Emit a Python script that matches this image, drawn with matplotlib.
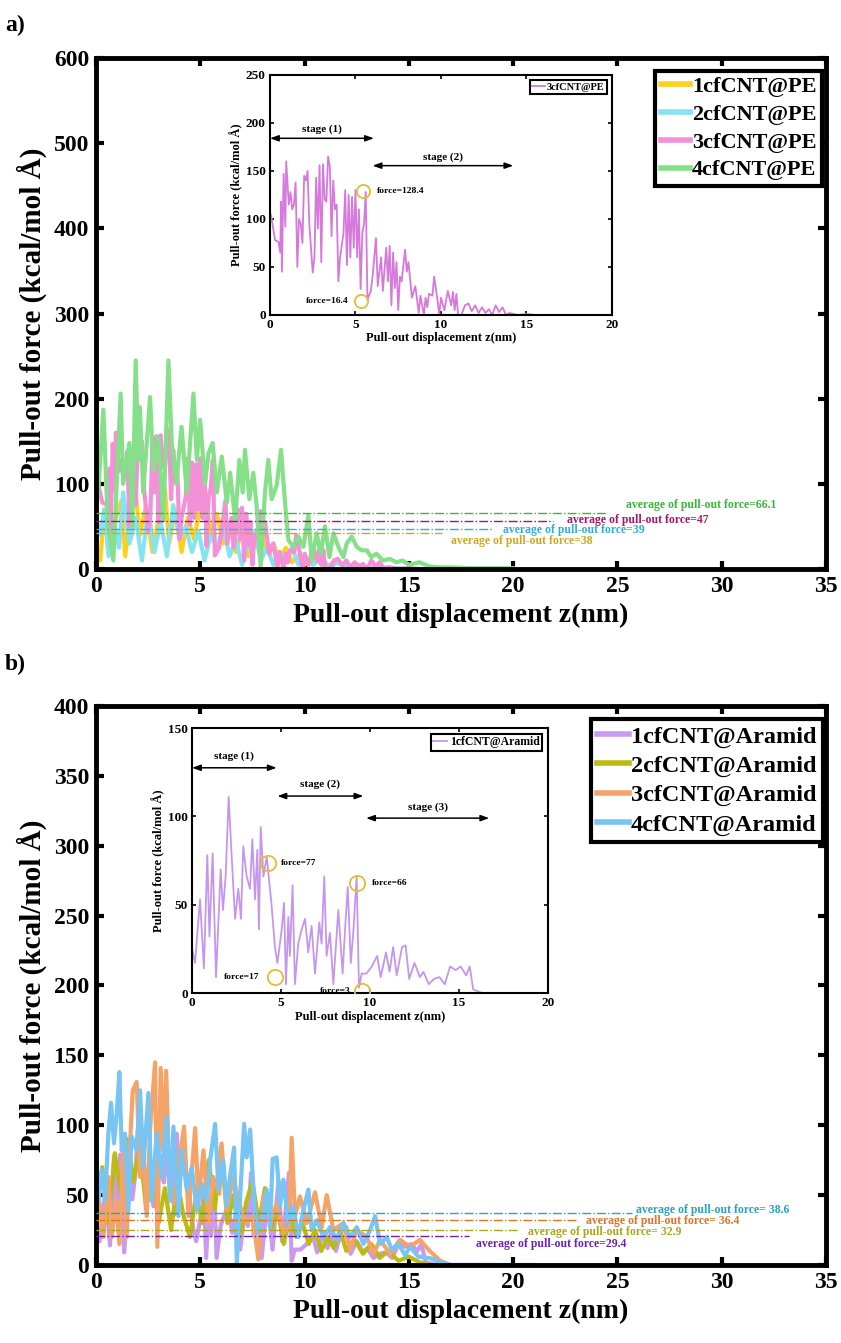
import matplotlib
matplotlib.use("Agg")
from matplotlib import pyplot as plt

plt.rcParams['font.family'] = ['Liberation Serif', 'DejaVu Serif']
plt.rcParams['font.weight'] = 'bold'
plt.rcParams['axes.labelweight'] = 'bold'

# ---- panel a data: cfCNT@PE ----
pe1_x = [0, 0.2, 0.4, 0.6, 0.9, 1.2, 1.4, 1.6, 1.9, 2.1,
         2.4, 2.7, 3.0, 3.3, 3.5, 3.8, 4.1, 4.4, 4.7, 5.0,
         5.2, 5.5, 5.8, 6.1, 6.4, 6.7, 7.0, 7.3, 7.6, 7.9,
         8.2, 8.5, 8.8, 9.1, 9.4, 9.7, 10.0, 10.5, 11.0, 11.5,
         12.0, 12.5, 13.0, 13.5, 14.0]
pe1_y = [30, 10, 70, 20, 55, 80, 15, 60, 90, 40,
         75, 20, 60, 95, 30, 70, 20, 60, 35, 75,
         100, 40, 65, 30, 55, 20, 45, 15, 35, 60,
         20, 30, 10, 25, 8, 15, 5, 12, 3, 8,
         2, 6, 1, 2, 0]

pe2_x = [0, 0.2, 0.4, 0.6, 0.9, 1.1, 1.3, 1.6, 1.9, 2.2,
         2.5, 2.8, 3.1, 3.4, 3.7, 4.0, 4.3, 4.6, 4.9, 5.2,
         5.5, 5.8, 6.1, 6.4, 6.7, 7.0, 7.3, 7.6, 7.9, 8.2,
         8.5, 8.8, 9.1, 9.4, 9.7, 10.0, 10.4, 10.8, 11.2, 11.6,
         12.0, 12.5, 13.0, 14.0, 15.0, 16.0]
pe2_y = [60, 40, 70, 15, 50, 25, 90, 30, 60, 10,
         70, 20, 55, 15, 75, 35, 50, 20, 45, 10,
         40, 25, 50, 15, 35, 5, 30, 45, 10, 25,
         5, 20, 10, 25, 5, 15, 5, 12, 2, 8,
         3, 5, 1, 2, 0, 0]

pe3_x = [0, 0.1, 0.3, 0.5, 0.6, 0.65, 0.7, 0.8, 0.9, 0.95,
         1.1, 1.2, 1.3, 1.4, 1.5, 1.6, 1.7, 1.8, 1.9, 2.0,
         2.1, 2.2, 2.3, 2.5, 2.6, 2.7, 2.8, 2.9, 3.0, 3.1,
         3.2, 3.3, 3.4, 3.5, 3.6, 3.7, 3.8, 3.9, 4.0, 4.1,
         4.3, 4.4, 4.5, 4.6, 4.7, 4.8, 4.9, 5.0, 5.1, 5.2,
         5.3, 5.4, 5.5, 5.6, 5.7, 5.9, 6.0, 6.2, 6.3, 6.5,
         6.6, 6.8, 6.9, 7.0, 7.1, 7.2, 7.3, 7.4, 7.5, 7.6,
         7.7, 7.9, 8.0, 8.1, 8.3, 8.5, 8.7, 8.8, 9.0, 9.1,
         9.2, 9.3, 9.5, 9.6, 9.8, 9.9, 10.0, 10.2, 10.4, 10.6,
         10.7, 10.8, 10.9, 11.0, 11.2, 11.4, 11.6, 11.8, 12.0, 12.2,
         12.4, 12.6, 12.8, 13.0, 13.2, 13.4, 13.6, 13.8, 14.0, 14.5,
         15.0, 15.5, 16.7]
pe3_y = [108, 100, 78, 76, 65, 118, 45, 147, 92, 160,
         115, 128, 110, 115, 138, 50, 100, 95, 75, 145,
         140, 150, 95, 44, 60, 143, 90, 156, 55, 157,
         120, 118, 165, 155, 82, 140, 110, 115, 35, 60,
         85, 130, 52, 125, 60, 123, 70, 130, 60, 110,
         27, 85, 95, 128, 16, 25, 40, 80, 30, 60,
         25, 70, 35, 72, 10, 65, 28, 55, 5, 40,
         35, 68, 45, 55, 18, 30, 2, 20, 0, 18,
         8, 22, 20, 40, 15, 0, 18, 5, 25, 10,
         24, 5, 22, 0, 0, 10, 12, 4, 10, 2,
         8, 2, 6, 0, 10, 3, 8, 0, 2, 0,
         1, 0, 0]

pe4_x = [0, 0.11, 0.35, 0.57, 0.83, 1.18, 1.3, 1.6, 1.74, 1.9,
         2.03, 2.1, 2.26, 2.59, 2.75, 2.99, 3.23, 3.47, 3.63, 3.84,
         4.1, 4.35, 4.67, 4.83, 4.99, 5.23, 5.39, 5.59, 5.79, 6.03,
         6.27, 6.43, 6.67, 6.87, 7.03, 7.14, 7.35, 7.54, 7.7, 7.89,
         8.1, 8.26, 8.42, 8.66, 8.87, 9.06, 9.22, 9.46, 9.7, 9.94,
         10.18, 10.34, 10.58, 10.77, 10.98, 11.19, 11.38, 11.62, 11.86, 12.02,
         12.26, 12.5, 12.73, 12.98, 13.2, 13.44, 13.76, 14.08, 14.4, 14.7,
         15.0, 15.5, 16.0, 16.5, 17.0, 18.0, 19.0, 20.0]
pe4_y = [70, 93, 187, 50, 10, 206, 100, 148, 50, 245,
         128, 190, 90, 202, 116, 155, 57, 245, 148, 100,
         167, 90, 206, 128, 175, 100, 136, 148, 90, 132,
         78, 113, 57, 128, 90, 140, 82, 113, 74, 3,
         90, 128, 82, 98, 140, 78, 34, 26, 38, 26,
         63, 10, 42, 18, 50, 14, 42, 26, 14, 30,
         38, 26, 22, 22, 14, 18, 10, 12, 8, 10,
         5, 8, 3, 2, 2, 1, 1, 1]

pe_labels = ['1cfCNT@PE', '2cfCNT@PE', '3cfCNT@PE', '4cfCNT@PE']
pe_colors = ['#ffd21a', '#86e3f2', '#f390d8', '#86e08a']
pe_avg_level = [42, 47, 56, 66]
pe_avg_end = [16.6, 19.0, 21.9, 24.5]
pe_avg_text = ['average of pull-out force=38', 'average of pull-out force=39',
               'average of pull-out force=47', 'average of pull-out force=66.1']
pe_avg_text_x = [17.0, 19.5, 22.6, 25.4]
pe_avg_text_y = [33, 46, 57, 75]
pe_avg_colors = ['#d0a820', '#30aed6', '#a3186e', '#38b83a']

# ---- panel b data: cfCNT@Aramid ----
ar1_x = [0, 0.17, 0.45, 0.67, 0.86, 0.98, 1.16, 1.35, 1.61, 1.74,
         1.89, 2.06, 2.23, 2.42, 2.6, 2.75, 2.88, 3.07, 3.26, 3.39,
         3.54, 3.67, 3.76, 3.86, 4.01, 4.2, 4.46, 4.66, 4.8, 5.04,
         5.17, 5.28, 5.41, 5.5, 5.65, 5.78, 5.97, 6.16, 6.35, 6.53,
         6.72, 6.91, 7.15, 7.28, 7.43, 7.56, 7.75, 7.94, 8.22, 8.46,
         8.6, 8.75, 8.92, 9.06, 9.25, 9.38, 9.53, 9.8, 10.1, 10.4,
         10.6, 10.9, 11.1, 11.3, 11.5, 11.8, 12.0, 12.2, 12.5, 12.8,
         13.0, 13.3, 13.6, 13.9, 14.2, 14.5, 14.8, 15.1, 15.4, 15.6,
         15.8, 16.3, 18.8]
ar1_y = [25, 17, 53, 14, 78, 32, 79, 9, 70, 47,
         66, 111, 77, 42, 59, 42, 83, 66, 59, 87,
         53, 81, 36, 94, 66, 77, 51, 26, 17, 36,
         51, 5, 43, 21, 61, 5, 28, 36, 42, 23,
         38, 11, 40, 28, 66, 21, 34, 5, 47, 11,
         36, 60, 17, 34, 66, 3, 11, 11, 15, 21,
         9, 23, 12, 26, 10, 26, 27, 8, 17, 9,
         12, 5, 8, 9, 5, 15, 13, 15, 10, 15,
         2, 0, 0]

ar2_x = [0, 0.3, 0.6, 0.9, 1.2, 1.5, 1.8, 2.1, 2.4, 2.7,
         3.0, 3.3, 3.6, 3.9, 4.2, 4.5, 4.8, 5.1, 5.4, 5.7,
         6.0, 6.3, 6.6, 6.9, 7.2, 7.5, 7.8, 8.1, 8.4, 8.7,
         9.0, 9.3, 9.6, 9.9, 10.2, 10.5, 10.8, 11.1, 11.4, 11.7,
         12.0, 12.4, 12.8, 13.2, 13.6, 14.0, 14.5, 15.0, 15.5, 16.0]
ar2_y = [40, 70, 30, 80, 50, 90, 60, 85, 40, 70,
         30, 55, 25, 60, 35, 20, 50, 30, 75, 40,
         85, 30, 50, 20, 45, 60, 30, 55, 25, 40,
         15, 35, 20, 30, 15, 25, 10, 20, 12, 25,
         10, 18, 8, 15, 5, 10, 3, 6, 2, 0]

ar3_x = [0, 0.11, 0.35, 0.59, 0.75, 0.96, 1.12, 1.31, 1.47, 1.63,
         1.76, 1.95, 2.11, 2.27, 2.43, 2.59, 2.83, 2.94, 3.1, 3.23,
         3.36, 3.52, 3.71, 3.95, 4.22, 4.43, 4.75, 4.91, 5.15, 5.38,
         5.62, 5.91, 6.02, 6.26, 6.58, 6.9, 7.22, 7.51, 7.78, 8.02,
         8.34, 8.66, 8.98, 9.25, 9.38, 9.54, 9.78, 10.1, 10.5, 10.82,
         11.06, 11.38, 11.86, 12.18, 12.5, 12.98, 13.3, 13.62, 14.1, 14.57,
         15.05, 15.53, 16.0, 16.5, 17.0]
ar3_y = [30, 51, 20, 63, 20, 46, 15, 82, 20, 87,
         125, 131, 63, 82, 35, 97, 145, 13, 141, 82,
         139, 63, 44, 70, 99, 35, 98, 46, 82, 30,
         63, 51, 87, 39, 63, 42, 30, 35, 4, 49,
         30, 44, 23, 27, 91, 35, 49, 30, 52, 27,
         50, 25, 30, 11, 25, 20, 8, 18, 8, 18,
         13, 18, 10, 3, 0]

ar4_x = [0, 0.11, 0.27, 0.43, 0.59, 0.72, 0.86, 0.99, 1.12, 1.23,
         1.39, 1.55, 1.71, 1.95, 2.11, 2.27, 2.51, 2.67, 2.91, 3.15,
         3.39, 3.55, 3.71, 3.95, 4.11, 4.35, 4.59, 4.83, 5.07, 5.31,
         5.47, 5.71, 5.87, 6.1, 6.26, 6.42, 6.62, 6.75, 6.9, 7.1,
         7.22, 7.39, 7.58, 7.78, 8.02, 8.18, 8.34, 8.47, 8.66, 8.82,
         8.98, 9.22, 9.46, 9.7, 9.94, 10.18, 10.34, 10.58, 10.9, 11.22,
         11.54, 11.86, 12.18, 12.5, 12.82, 13.14, 13.38, 13.62, 13.94, 14.18,
         14.5, 14.82, 15.05, 15.45, 16.0, 16.5, 17.0, 21.0]
ar4_y = [40, 46, 68, 46, 94, 116, 87, 108, 138, 82,
         94, 39, 92, 82, 125, 70, 123, 46, 94, 63,
         106, 46, 99, 35, 82, 54, 70, 39, 58, 46,
         75, 101, 54, 75, 42, 63, 84, 1, 46, 101,
         77, 97, 44, 23, 35, 54, 27, 76, 77, 42,
         61, 30, 42, 20, 39, 54, 25, 32, 20, 27,
         18, 30, 20, 27, 15, 25, 35, 15, 20, 11,
         15, 7, 13, 6, 5, 2, 0, 0]

ar_labels = ['1cfCNT@Aramid', '2cfCNT@Aramid', '3cfCNT@Aramid', '4cfCNT@Aramid']
ar_colors = ['#c99af0', '#bcbc10', '#f4a468', '#78c4f2']
ar_avg_level = [21, 25, 32, 37]
ar_avg_end = [17.9, 20.3, 23.0, 25.7]
ar_avg_text = ['average of pull-out force=29.4', 'average of pull-out force= 32.9',
               'average of pull-out force= 36.4', 'average of pull-out force= 38.6']
ar_avg_text_x = [18.2, 20.7, 23.5, 25.9]
ar_avg_text_y = [15, 23.6, 31.5, 39.4]
ar_avg_colors = ['#6a22b8', '#a8a820', '#e07428', '#2aa2c4']


def style_axes(ax, spine_w, tick_len, tick_w, size):
    for s in ax.spines.values():
        s.set_linewidth(spine_w)
    ax.tick_params(direction='in', length=tick_len, width=tick_w, labelsize=size,
                   top=True, right=True, pad=5)


def draw_main(ax, xs, ys, colors, labels, levels, ends, texts, tx, ty, tcolors,
              ymax, ystep, leg_size, leg_space, leg_anchor):
    for x, y, c, lab in zip(xs, ys, colors, labels):
        ax.plot(x, y, color=c, lw=3, label=lab)
    for lev, end, c in zip(levels, ends, tcolors):
        ax.plot([0, end], [lev, lev], color=c, lw=1.0, ls='-.', zorder=5)
    for t, x, y, c in zip(texts, tx, ty, tcolors):
        ax.text(x, y, t, color=c, fontsize=8.5, ha='left', va='center', zorder=6)
    ax.set_xlim(0, 35)
    ax.set_ylim(0, ymax)
    ax.set_xticks(range(0, 36, 5))
    ax.set_yticks(range(0, ymax + 1, ystep))
    style_axes(ax, 3.5, 6, 3, 17)
    ax.set_xlabel('Pull-out displacement z(nm)', fontsize=20, labelpad=4)
    ax.set_ylabel('Pull-out force (kcal/mol Å)', fontsize=21, labelpad=5)
    leg = ax.legend(loc='upper right', bbox_to_anchor=leg_anchor, fontsize=leg_size,
                    handlelength=1.3, handletextpad=0.1, borderpad=0.25,
                    labelspacing=leg_space, fancybox=False, edgecolor='black', framealpha=1)
    leg.get_frame().set_linewidth(3)
    for h in leg.get_lines():
        h.set_linewidth(4)


def draw_inset(ax, x, y, color, label, ymax, leg_size):
    ax.plot(x, y, color=color, lw=1.3, label=label)
    ax.set_xlim(0, 20)
    ax.set_ylim(0, ymax)
    ax.set_xticks(range(0, 21, 5))
    ax.set_yticks(range(0, ymax + 1, 50))
    style_axes(ax, 1.5, 3, 1.2, 9.5)
    ax.tick_params(pad=3)
    ax.set_xlabel('Pull-out displacement z(nm)', fontsize=9, labelpad=1)
    ax.set_ylabel('Pull-out force (kcal/mol Å)', fontsize=9, labelpad=2)
    leg = ax.legend(loc='upper right', fontsize=leg_size, handlelength=1.2, handletextpad=0.2,
                    borderpad=0.2, fancybox=False, edgecolor='black', framealpha=1)
    leg.get_frame().set_linewidth(1.5)


def stage(ax, x0, x1, y, text, ty):
    ax.annotate('', xy=(x1, y), xytext=(x0, y),
                arrowprops=dict(arrowstyle='<|-|>,head_length=0.5,head_width=0.18',
                                color='black', lw=1.1, shrinkA=0, shrinkB=0))
    ax.text((x0 + x1) / 2, ty, text, fontsize=8, ha='center', va='center')


def mark(ax, x, y, text, tx, ha, ms):
    ax.plot([x], [y], 'o', mfc='none', mec='#e2bd35', mew=1.3, ms=ms, zorder=6)
    ax.text(tx, y, text, fontsize=6.8, ha=ha, va='center')


fig = plt.figure(figsize=(8.41, 13.43), dpi=100)

# panel a
ax_a = fig.add_axes([0.1142, 0.5763, 0.868, 0.3805])
draw_main(ax_a, [pe1_x, pe2_x, pe3_x, pe4_x], [pe1_y, pe2_y, pe3_y, pe4_y], pe_colors, pe_labels,
          pe_avg_level, pe_avg_end, pe_avg_text, pe_avg_text_x, pe_avg_text_y, pe_avg_colors,
          600, 100, 16, 0.33, (1.01, 0.997))
fig.text(0.006, 0.981, 'a)', fontsize=17, ha='left', va='center')

ins_a = fig.add_axes([0.321, 0.7655, 0.4067, 0.1787])
draw_inset(ins_a, pe3_x, pe3_y, '#d678dc', '3cfCNT@PE', 250, 7.5)
stage(ins_a, 0, 6.08, 184, 'stage (1)', 194)
stage(ins_a, 6.0, 14.23, 155.5, 'stage (2)', 164)
mark(ins_a, 5.46, 129, 'force=128.4', 6.24, 'left', 9.5)
mark(ins_a, 5.3, 14, 'force=16.4', 4.62, 'right', 9.5)

# panel b
ax_b = fig.add_axes([0.1142, 0.0581, 0.868, 0.4162])
draw_main(ax_b, [ar1_x, ar2_x, ar3_x, ar4_x], [ar1_y, ar2_y, ar3_y, ar4_y], ar_colors, ar_labels,
          ar_avg_level, ar_avg_end, ar_avg_text, ar_avg_text_x, ar_avg_text_y, ar_avg_colors,
          400, 50, 17.5, 0.3, (1.012, 0.998))
fig.text(0.006, 0.505, 'b)', fontsize=17, ha='left', va='center')

ins_b = fig.add_axes([0.2283, 0.2606, 0.4233, 0.1973])
draw_inset(ins_b, ar1_x, ar1_y, '#c596ee', '1cfCNT@Aramid', 150, 8.5)
stage(ins_b, 0, 4.76, 127.5, 'stage (1)', 134)
stage(ins_b, 4.8, 9.63, 111.5, 'stage (2)', 118)
stage(ins_b, 9.78, 16.7, 99, 'stage (3)', 105)
mark(ins_b, 4.29, 73.4, 'force=77', 5.0, 'left', 11)
mark(ins_b, 9.25, 62, 'force=66', 10.13, 'left', 11)
mark(ins_b, 4.66, 9, 'force=17', 3.76, 'right', 11)
mark(ins_b, 9.55, 1, 'force=3', 8.9, 'right', 11)

fig.savefig('out.png', dpi=100)
